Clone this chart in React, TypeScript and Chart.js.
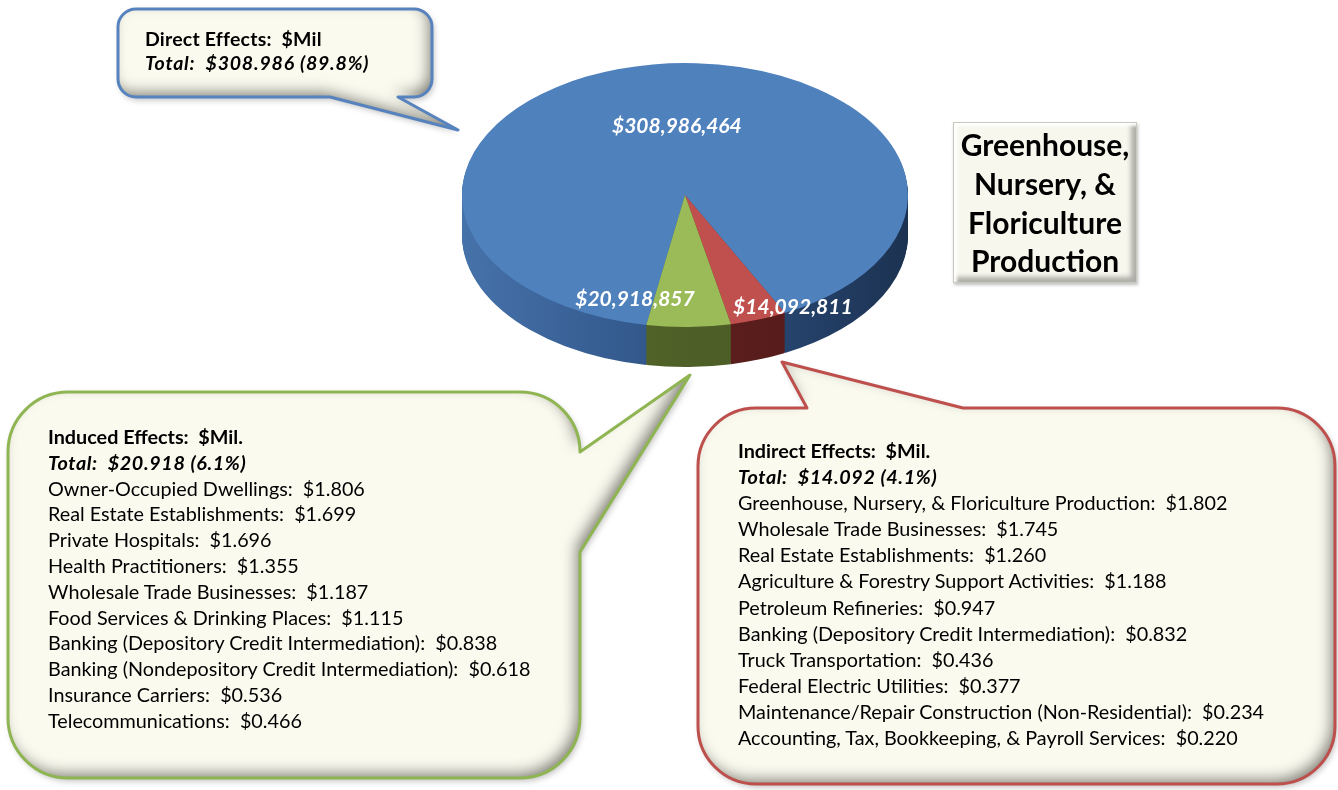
import React, { useEffect, useRef } from 'react';
import { Chart, registerables } from 'chart.js';

Chart.register(...registerables);

const W = 1338;
const H = 790;

// ---- data ----
const SLICE_NAMES = ['Direct Effects', 'Indirect Effects', 'Induced Effects'];
const SLICE_VALUES = [308986464, 14092811, 20918857];

const INDUCED_ITEMS = [
  'Owner-Occupied Dwellings',
  'Real Estate Establishments',
  'Private Hospitals',
  'Health Practitioners',
  'Wholesale Trade Businesses',
  'Food Services & Drinking Places',
  'Banking (Depository Credit Intermediation)',
  'Banking (Nondepository Credit Intermediation)',
  'Insurance Carriers',
  'Telecommunications',
];
const INDUCED_VALUES = [1.806, 1.699, 1.696, 1.355, 1.187, 1.115, 0.838, 0.618, 0.536, 0.466];

const INDIRECT_ITEMS = [
  'Greenhouse, Nursery, & Floriculture Production',
  'Wholesale Trade Businesses',
  'Real Estate Establishments',
  'Agriculture & Forestry Support Activities',
  'Petroleum Refineries',
  'Banking (Depository Credit Intermediation)',
  'Truck Transportation',
  'Federal Electric Utilities',
  'Maintenance/Repair Construction (Non-Residential)',
  'Accounting, Tax, Bookkeeping, & Payroll Services',
];
const INDIRECT_VALUES = [1.802, 1.745, 1.26, 1.188, 0.947, 0.832, 0.436, 0.377, 0.234, 0.22];

const TITLE_LINES = ['Greenhouse,', 'Nursery, &', 'Floriculture', 'Production'];

// ---- style ----
const TOP_COLORS = ['#4f81bd', '#c0504d', '#9bbb59'];
const SIDE_COLORS = [
  ['#4672aa', '#2e5285', '#1c3251'],
  ['#6b2422', '#4f1918'],
  ['#5a6e2d', '#435221'],
];
const PIE = { cx: 685, cy: 195, rx: 223, ry: 132, depth: 40, rotation: 190 };
const LABEL_RADIUS = [0.5, 0.8, 0.8];
const LABEL_SHIFT = [[8, -3], [49, 13], [-53, -1]];
const FONT = 'Lato, "Open Sans", sans-serif';

const TOTAL = SLICE_VALUES.reduce((a, b) => a + b, 0);
const fmtDollars = (v: number) => '$' + v.toLocaleString('en-US');
const fmtMil = (v: number) => (Math.floor(v / 1000) / 1000).toFixed(3);
const fmtPct = (v: number) => ((v / TOTAL) * 100).toFixed(1) + '%';

const pie3d = {
  id: 'pie3d',
  beforeDatasetsDraw(chart: any) {
    const ctx: CanvasRenderingContext2D = chart.ctx;
    const meta = chart.getDatasetMeta(0);
    const k = PIE.ry / PIE.rx;
    const ey = meta.data[0].y;
    const grads = SIDE_COLORS.map((stops) => {
      const g = ctx.createLinearGradient(PIE.cx - PIE.rx, 0, PIE.cx + PIE.rx, 0);
      stops.forEach((c, i) => g.addColorStop(i / (stops.length - 1), c));
      return g;
    });
    for (let d = PIE.depth; d >= 1; d--) {
      ctx.save();
      ctx.translate(0, PIE.cy + d);
      ctx.scale(1, k);
      ctx.translate(0, -ey);
      meta.data.forEach((el: any, i: number) => {
        const fake = Object.create(el);
        fake.options = Object.assign({}, el.options, { backgroundColor: grads[i], borderWidth: 0 });
        el.draw.call(fake, ctx);
      });
      ctx.restore();
    }
    ctx.save();
    ctx.translate(0, PIE.cy);
    ctx.scale(1, k);
    ctx.translate(0, -ey);
  },
  afterDatasetsDraw(chart: any) {
    const ctx: CanvasRenderingContext2D = chart.ctx;
    ctx.restore();
    const meta = chart.getDatasetMeta(0);
    const k = PIE.ry / PIE.rx;
    ctx.save();
    ctx.font = 'italic bold 21px ' + FONT;
    ctx.fillStyle = '#ffffff';
    ctx.textAlign = 'center';
    ctx.textBaseline = 'middle';
    meta.data.forEach((el: any, i: number) => {
      const mid = (el.startAngle + el.endAngle) / 2;
      const f = LABEL_RADIUS[i];
      const x = el.x + Math.cos(mid) * el.outerRadius * f + LABEL_SHIFT[i][0];
      const y = PIE.cy + Math.sin(mid) * el.outerRadius * f * k + LABEL_SHIFT[i][1];
      ctx.fillText(fmtDollars(SLICE_VALUES[i]), x, y);
    });
    ctx.restore();
  },
};

const BUBBLES = [
  {
    d: 'M 136 9 H 414 A 18 18 0 0 1 432 27 V 79 A 18 18 0 0 1 414 97 H 398 L 458 130 L 330 97 H 136 A 18 18 0 0 1 118 79 V 27 A 18 18 0 0 1 136 9 Z',
    stroke: '#5682bd',
  },
  {
    d: 'M 68 392 H 520 A 60 60 0 0 1 580 452 L 690 375 L 580 552 V 718 A 60 60 0 0 1 520 778 H 68 A 60 60 0 0 1 8 718 V 452 A 60 60 0 0 1 68 392 Z',
    stroke: '#8fb553',
  },
  {
    d: 'M 756 408 H 807 L 782 362 L 963 408 H 1277 A 58 58 0 0 1 1335 466 V 726 A 58 58 0 0 1 1277 784 H 756 A 58 58 0 0 1 698 726 V 466 A 58 58 0 0 1 756 408 Z',
    stroke: '#bd4f4c',
  },
];

function Bubbles() {
  return (
    <svg width={W} height={H} style={{ position: 'absolute', left: 0, top: 0 }}>
      <defs>
        <filter id="bevel" x="-10%" y="-10%" width="120%" height="130%">
          <feGaussianBlur in="SourceAlpha" stdDeviation="7" result="b" />
          <feOffset in="b" dx="-5" dy="-6" result="bo" />
          <feComposite in="SourceAlpha" in2="bo" operator="out" result="edge" />
          <feFlood floodColor="#55554d" floodOpacity="0.85" />
          <feComposite in2="edge" operator="in" result="shade" />
          <feGaussianBlur in="SourceAlpha" stdDeviation="3" result="sb" />
          <feOffset in="sb" dx="2" dy="3" result="so" />
          <feFlood floodColor="#000" floodOpacity="0.25" />
          <feComposite in2="so" operator="in" result="drop" />
          <feMerge>
            <feMergeNode in="drop" />
            <feMergeNode in="SourceGraphic" />
            <feMergeNode in="shade" />
          </feMerge>
        </filter>
      </defs>
      {BUBBLES.map((b, i) => (
        <g key={i}>
          <path d={b.d} fill="#fbfaef" filter="url(#bevel)" />
          <path d={b.d} fill="none" stroke={b.stroke} strokeWidth={3} strokeLinejoin="round" />
        </g>
      ))}
    </svg>
  );
}

function TextBlock(props: {
  left: number;
  top: number;
  lh: number;
  size: number;
  headSpacing: number;
  totalSpacing: number;
  heading: string;
  total: string;
  items: string[];
}) {
  const { left, top, lh, size, headSpacing, totalSpacing, heading, total, items } = props;
  return (
    <div
      style={{
        position: 'absolute',
        left,
        top,
        fontFamily: FONT,
        fontSize: size,
        lineHeight: lh + 'px',
        color: '#000',
        whiteSpace: 'pre',
      }}
    >
      <div style={{ fontWeight: 700, letterSpacing: headSpacing }}>{heading}</div>
      <div style={{ fontWeight: 700, fontStyle: 'italic', letterSpacing: totalSpacing }}>{total}</div>
      {items.map((t, i) => (
        <div key={i}>{t}</div>
      ))}
    </div>
  );
}

export default function App() {
  const ref = useRef<HTMLCanvasElement>(null);
  useEffect(() => {
    const canvas = ref.current!;
    const chart = new Chart(canvas, {
      type: 'pie',
      data: {
        labels: SLICE_NAMES,
        datasets: [
          {
            data: SLICE_VALUES,
            backgroundColor: TOP_COLORS,
            borderWidth: 0,
            clip: false,
          } as any,
        ],
      },
      options: {
        responsive: false,
        animation: false,
        events: [],
        rotation: PIE.rotation,
        radius: PIE.rx,
        layout: {
          padding: {
            left: PIE.cx - PIE.rx,
            right: W - PIE.cx - PIE.rx,
            top: 10,
            bottom: H - 10 - 2 * PIE.rx,
          },
        },
        plugins: {
          legend: { display: false },
          tooltip: { enabled: false },
          title: { display: false },
        },
      } as any,
      plugins: [pie3d as any],
    });
    return () => chart.destroy();
  }, []);

  const induced = INDUCED_ITEMS.map((n, i) => `${n}:  $${INDUCED_VALUES[i].toFixed(3)}`);
  const indirect = INDIRECT_ITEMS.map((n, i) => `${n}:  $${INDIRECT_VALUES[i].toFixed(3)}`);

  return (
    <div style={{ position: 'absolute', left: 0, top: 0, width: W, height: H, background: '#fff', overflow: 'hidden' }}>
      <Bubbles />
      <canvas ref={ref} width={W} height={H} style={{ position: 'absolute', left: 0, top: 0 }} />
      <TextBlock
        left={145}
        top={27}
        lh={24}
        size={19.5}
        headSpacing={0.2}
        totalSpacing={0.8}
        heading={`${SLICE_NAMES[0]}:  $Mil`}
        total={`Total:  $${fmtMil(SLICE_VALUES[0])} (${fmtPct(SLICE_VALUES[0])})`}
        items={[]}
      />
      <TextBlock
        left={48}
        top={424}
        lh={25.8}
        size={19.8}
        headSpacing={0}
        totalSpacing={0.6}
        heading={`${SLICE_NAMES[2]}:  $Mil.`}
        total={`Total:  $${fmtMil(SLICE_VALUES[2])} (${fmtPct(SLICE_VALUES[2])})`}
        items={induced}
      />
      <TextBlock
        left={738}
        top={437}
        lh={26.1}
        size={19.8}
        headSpacing={0}
        totalSpacing={0.6}
        heading={`${SLICE_NAMES[1]}:  $Mil.`}
        total={`Total:  $${fmtMil(SLICE_VALUES[1])} (${fmtPct(SLICE_VALUES[1])})`}
        items={indirect}
      />
      <div
        style={{
          position: 'absolute',
          left: 953,
          top: 122,
          width: 184,
          height: 161,
          boxSizing: 'border-box',
          background: '#f8f7ee',
          border: '1px solid #c9c9c0',
          boxShadow:
            'inset 3px 3px 3px rgba(255,255,255,0.95), inset -5px -5px 5px rgba(0,0,0,0.3), 1px 2px 3px rgba(0,0,0,0.25)',
          display: 'flex',
          flexDirection: 'column',
          justifyContent: 'center',
          alignItems: 'center',
          fontFamily: FONT,
          fontWeight: 700,
          fontSize: 30,
          lineHeight: '38.7px',
          color: '#000',
          whiteSpace: 'pre',
        }}
      >
        {TITLE_LINES.map((t, i) => (
          <div key={i}>{t}</div>
        ))}
      </div>
    </div>
  );
}
